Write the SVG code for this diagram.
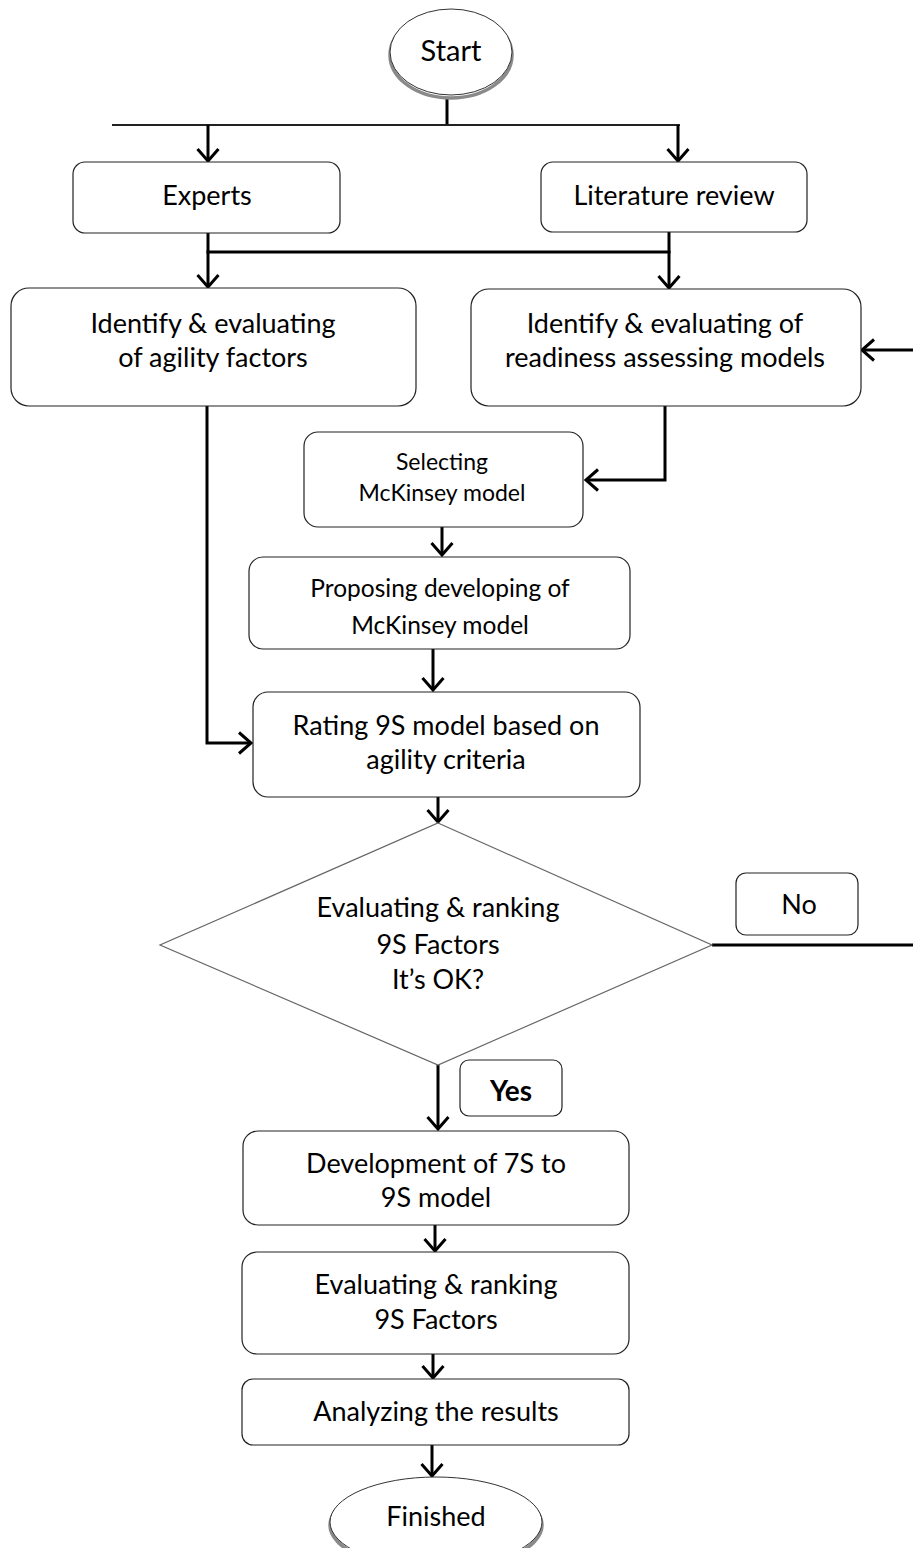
<svg xmlns="http://www.w3.org/2000/svg" width="913" height="1548" viewBox="0 0 913 1548">
<style>
.box{fill:#fff;stroke:#222;stroke-width:1.2}
.dia{fill:#fff;stroke:#666;stroke-width:1.2}
.ell{fill:#fff;stroke:#333;stroke-width:1}
.sh{fill:none;stroke:#8a8a8a;stroke-width:3.5}
.c{fill:none;stroke:#000;stroke-width:3}
.t{font-family:Lato,"Open Sans",sans-serif;font-size:27px;fill:#000;text-anchor:middle}
.s{font-size:23px}
.p{font-size:24.5px}
</style>
<defs>
<marker id="a" markerUnits="userSpaceOnUse" markerWidth="26" markerHeight="26" viewBox="0 0 26 26" refX="14" refY="13" orient="auto">
<path d="M2,2.5 L14,13 L2,23.5" fill="none" stroke="#000" stroke-width="3"/>
</marker>
</defs>
<g id="connectors">
<line class="c" x1="447" y1="97" x2="447" y2="125"/>
<line x1="112" y1="125" x2="680" y2="125" stroke="#222" stroke-width="2"/>
<line class="c" x1="208" y1="125" x2="208" y2="161" marker-end="url(#a)"/>
<line class="c" x1="678" y1="125" x2="678" y2="161" marker-end="url(#a)"/>
<line class="c" x1="208" y1="233" x2="208" y2="287" marker-end="url(#a)"/>
<line class="c" x1="206.5" y1="252" x2="670.5" y2="252"/>
<line class="c" x1="669" y1="232" x2="669" y2="288" marker-end="url(#a)"/>
<polyline class="c" points="207,406 207,743 251,743" marker-end="url(#a)"/>
<polyline class="c" points="665,406 665,480 586,480" marker-end="url(#a)"/>
<line class="c" x1="913" y1="350" x2="862" y2="350" stroke-width="2.5" marker-end="url(#a)"/>
<line class="c" x1="442" y1="527" x2="442" y2="555" marker-end="url(#a)"/>
<line class="c" x1="433" y1="649" x2="433" y2="690" marker-end="url(#a)"/>
<line class="c" x1="438" y1="797" x2="438" y2="822" marker-end="url(#a)"/>
<line class="c" x1="712" y1="945" x2="913" y2="945" stroke-width="4"/>
<line class="c" x1="438" y1="1065" x2="438" y2="1129" marker-end="url(#a)"/>
<line class="c" x1="435" y1="1225" x2="435" y2="1251" marker-end="url(#a)"/>
<line class="c" x1="433" y1="1354" x2="433" y2="1378" marker-end="url(#a)"/>
<line class="c" x1="432" y1="1445" x2="432" y2="1476" marker-end="url(#a)"/>
</g>
<g id="start">
<ellipse class="sh" cx="451" cy="55" rx="61" ry="43"/>
<ellipse class="ell" cx="451" cy="52" rx="61" ry="43"/>
<text class="t" x="451" y="61" style="font-size:29px">Start</text>
</g>
<g id="experts">
<rect class="box" x="73" y="162" width="267" height="71" rx="12"/>
<text class="t" x="207" y="205">Experts</text>
</g>
<g id="literature">
<rect class="box" x="541" y="162" width="266" height="70" rx="12"/>
<text class="t" x="674" y="205">Literature review</text>
</g>
<g id="agility">
<rect class="box" x="11" y="288" width="405" height="118" rx="18"/>
<text class="t" x="213" y="333">Identify &amp; evaluating</text>
<text class="t" x="213" y="367">of agility factors</text>
</g>
<g id="readiness">
<rect class="box" x="471" y="289" width="390" height="117" rx="18"/>
<text class="t" x="665" y="333">Identify &amp; evaluating of</text>
<text class="t" x="665" y="367">readiness assessing models</text>
</g>
<g id="selecting">
<rect class="box" x="304" y="432" width="279" height="95" rx="14"/>
<text class="t s" x="442" y="470">Selecting</text>
<text class="t s" x="442" y="501">McKinsey model</text>
</g>
<g id="proposing">
<rect class="box" x="249" y="557" width="381" height="92" rx="14"/>
<text class="t p" x="440" y="597">Proposing developing of</text>
<text class="t p" x="440" y="634">McKinsey model</text>
</g>
<g id="rating">
<rect class="box" x="253" y="692" width="387" height="105" rx="15"/>
<text class="t" x="446" y="735">Rating 9S model based on</text>
<text class="t" x="446" y="769">agility criteria</text>
</g>
<g id="decision">
<polygon class="dia" points="438,823 712,945 438,1065 160,945"/>
<text class="t" x="438" y="917">Evaluating &amp; ranking</text>
<text class="t" x="438" y="954">9S Factors</text>
<text class="t" x="438" y="989">It’s OK?</text>
</g>
<g id="no">
<rect class="box" x="736" y="873" width="122" height="62" rx="10"/>
<text class="t" x="799" y="914">No</text>
</g>
<g id="yes">
<rect class="box" x="460" y="1060" width="102" height="56" rx="9"/>
<text class="t" x="511" y="1101" font-weight="bold" style="font-size:28px">Yes</text>
</g>
<g id="development">
<rect class="box" x="243" y="1131" width="386" height="94" rx="15"/>
<text class="t" x="436" y="1173">Development of 7S to</text>
<text class="t" x="436" y="1207">9S model</text>
</g>
<g id="evaluating">
<rect class="box" x="242" y="1252" width="387" height="102" rx="15"/>
<text class="t" x="436" y="1294">Evaluating &amp; ranking</text>
<text class="t" x="436" y="1329">9S Factors</text>
</g>
<g id="analyzing">
<rect class="box" x="242" y="1379" width="387" height="66" rx="11"/>
<text class="t" x="436" y="1421">Analyzing the results</text>
</g>
<g id="finished">
<ellipse class="sh" cx="436" cy="1525" rx="106" ry="45"/>
<ellipse class="ell" cx="436" cy="1522" rx="106" ry="45"/>
<text class="t" x="436" y="1526">Finished</text>
</g>
</svg>
